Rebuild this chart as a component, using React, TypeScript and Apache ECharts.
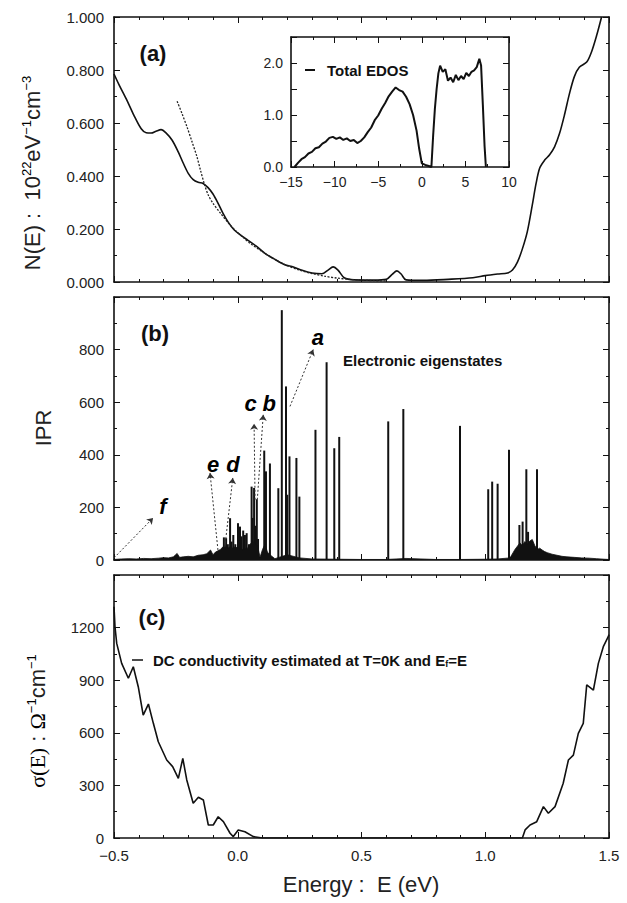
import { useEffect, useRef } from 'react';
import * as echarts from 'echarts';

const SANS = 'Liberation Sans, Arial, sans-serif';
const SERIF = 'Liberation Serif, Times New Roman, serif';
const INK = '#111';

// ---------- panel (a): N(E) ----------
const dosSolid: [number, number][] = [
  [-0.5, 0.785], [-0.48, 0.745], [-0.45, 0.69], [-0.42, 0.63], [-0.39, 0.578], [-0.37, 0.563],
  [-0.35, 0.562], [-0.33, 0.569], [-0.31, 0.575], [-0.29, 0.563], [-0.265, 0.535], [-0.24, 0.49],
  [-0.22, 0.448], [-0.2, 0.41], [-0.18, 0.386], [-0.16, 0.376], [-0.14, 0.372], [-0.12, 0.356],
  [-0.1, 0.332], [-0.08, 0.298], [-0.06, 0.26], [-0.04, 0.228], [-0.015, 0.197], [0.01, 0.178],
  [0.04, 0.158], [0.075, 0.135], [0.11, 0.108], [0.145, 0.088], [0.19, 0.065], [0.225, 0.057],
  [0.26, 0.044], [0.3, 0.034], [0.34, 0.031], [0.365, 0.045], [0.385, 0.057], [0.405, 0.045],
  [0.43, 0.016], [0.47, 0.008], [0.55, 0.007], [0.6, 0.01], [0.625, 0.03], [0.643, 0.042],
  [0.66, 0.03], [0.68, 0.008], [0.75, 0.006], [0.85, 0.01], [0.95, 0.016], [1.0, 0.024],
  [1.05, 0.03], [1.09, 0.034], [1.11, 0.045], [1.13, 0.075], [1.15, 0.125], [1.17, 0.19],
  [1.19, 0.29], [1.205, 0.37], [1.22, 0.43], [1.24, 0.46], [1.26, 0.48], [1.28, 0.51],
  [1.3, 0.56], [1.32, 0.63], [1.34, 0.71], [1.36, 0.775], [1.38, 0.81], [1.41, 0.83],
  [1.43, 0.87], [1.45, 0.93], [1.47, 1.0],
];
const dosFit: [number, number][] = [
  [-0.245, 0.682], [-0.225, 0.635], [-0.205, 0.585], [-0.185, 0.53], [-0.165, 0.473], [-0.15, 0.42],
  [-0.135, 0.37], [-0.12, 0.33], [-0.1, 0.297], [-0.07, 0.26], [-0.04, 0.225], [-0.01, 0.195],
  [0.02, 0.17], [0.05, 0.146], [0.1, 0.114], [0.15, 0.085], [0.2, 0.062], [0.25, 0.045],
  [0.3, 0.032], [0.35, 0.022], [0.4, 0.015], [0.45, 0.01], [0.5, 0.007], [0.55, 0.005], [0.6, 0.004],
];
// inset: total EDOS
const edosInset: [number, number][] = [
  [-14.6, 0.0], [-14.2, 0.08], [-13.8, 0.15], [-13.4, 0.19], [-13.0, 0.26], [-12.6, 0.29],
  [-12.2, 0.36], [-11.8, 0.38], [-11.4, 0.45], [-11.0, 0.49], [-10.6, 0.56], [-10.2, 0.58],
  [-9.8, 0.54], [-9.4, 0.57], [-9.0, 0.52], [-8.6, 0.55], [-8.2, 0.5], [-7.8, 0.52], [-7.4, 0.46],
  [-7.0, 0.5], [-6.6, 0.57], [-6.2, 0.67], [-5.8, 0.76], [-5.4, 0.9], [-5.0, 0.99], [-4.6, 1.12],
  [-4.2, 1.23], [-3.8, 1.36], [-3.4, 1.45], [-3.0, 1.53], [-2.6, 1.48], [-2.2, 1.45], [-1.8, 1.35],
  [-1.4, 1.21], [-1.0, 1.0], [-0.6, 0.7], [-0.3, 0.35], [0.0, 0.07], [0.4, 0.04], [0.8, 0.02],
  [1.1, 0.0], [1.3, 0.6], [1.5, 1.12], [1.7, 1.5], [1.9, 1.8], [2.1, 1.95], [2.4, 1.83],
  [2.7, 1.88], [3.0, 1.66], [3.3, 1.72], [3.6, 1.63], [3.9, 1.77], [4.2, 1.67], [4.5, 1.75],
  [4.8, 1.69], [5.1, 1.81], [5.4, 1.75], [5.7, 1.83], [6.0, 1.86], [6.3, 1.92], [6.6, 2.08],
  [6.8, 1.95], [7.0, 1.2], [7.2, 0.4], [7.35, 0.0],
];

// ---------- panel (b): IPR ----------
const iprSpikes: [number, number][] = [
  [-0.056, 86], [-0.047, 83], [-0.04, 60], [-0.031, 159], [-0.025, 70], [-0.018, 95], [-0.01, 60],
  [0.001, 140], [0.009, 127], [0.015, 90], [0.022, 112], [0.029, 95], [0.036, 102], [0.045, 60],
  [0.056, 279], [0.06, 160], [0.066, 274], [0.071, 130], [0.077, 231], [0.082, 80], [0.107, 416],
  [0.11, 150], [0.114, 337], [0.13, 367], [0.164, 273], [0.178, 950], [0.195, 660], [0.2, 248],
  [0.209, 394], [0.237, 388], [0.249, 241], [0.314, 495], [0.359, 752], [0.39, 425], [0.41, 468],
  [0.608, 527], [0.669, 574], [0.898, 510], [1.012, 269], [1.028, 298], [1.05, 290], [1.096, 419],
  [1.138, 133], [1.151, 146], [1.166, 345], [1.173, 107], [1.209, 345],
];
const iprDense: [number, number][] = [
  [-0.5, 2], [-0.47, 4], [-0.44, 5], [-0.41, 4], [-0.38, 6], [-0.35, 5], [-0.32, 7], [-0.3, 9],
  [-0.28, 8], [-0.26, 12], [-0.245, 25], [-0.235, 10], [-0.22, 12], [-0.2, 14], [-0.18, 12],
  [-0.16, 18], [-0.14, 20], [-0.125, 24], [-0.11, 38], [-0.1, 20], [-0.09, 30], [-0.08, 35],
  [-0.07, 40], [-0.06, 50], [-0.05, 55], [-0.04, 45], [-0.03, 50], [-0.02, 45], [-0.01, 50],
  [0.0, 45], [0.02, 40], [0.04, 45], [0.05, 60], [0.06, 70], [0.08, 55], [0.09, 10], [0.1, 40],
  [0.11, 60], [0.12, 30], [0.13, 20], [0.15, 5], [0.2, 20], [0.25, 8], [0.3, 4], [0.4, 3],
  [0.5, 2], [0.6, 2], [0.68, 6], [0.8, 2], [0.9, 2], [1.0, 3], [1.05, 4], [1.1, 8], [1.12, 40],
  [1.14, 65], [1.15, 55], [1.16, 70], [1.17, 60], [1.18, 72], [1.19, 78], [1.2, 55], [1.21, 40],
  [1.22, 45], [1.23, 38], [1.24, 32], [1.25, 28], [1.27, 22], [1.29, 18], [1.31, 14], [1.33, 12],
  [1.36, 10], [1.39, 8], [1.42, 7], [1.45, 5], [1.48, 3], [1.5, 2],
];
const stateLabels = [
  { name: 'a', value: [0.324, 846] },
  { name: 'b', value: [0.127, 594] },
  { name: 'c', value: [0.052, 594] },
  { name: 'd', value: [-0.019, 362] },
  { name: 'e', value: [-0.1, 362] },
  { name: 'f', value: [-0.302, 202] },
];
const stateArrows = [
  { coords: [[0.211, 584], [0.305, 800]] },
  { coords: [[0.079, 229], [0.103, 552]] },
  { coords: [[0.07, 229], [0.066, 518]] },
  { coords: [[-0.052, 50], [-0.02, 312]] },
  { coords: [[-0.08, 38], [-0.112, 331]] },
  { coords: [[-0.5, 8], [-0.342, 160]] },
];

// ---------- panel (c): sigma ----------
const sigma: [number, number][] = [
  [-0.5, 1319], [-0.496, 1205], [-0.489, 1110], [-0.469, 996], [-0.442, 911], [-0.422, 977],
  [-0.402, 863], [-0.382, 701], [-0.361, 764], [-0.341, 654], [-0.321, 549], [-0.287, 445],
  [-0.263, 407], [-0.24, 340], [-0.222, 454], [-0.206, 331], [-0.18, 198], [-0.159, 232],
  [-0.139, 217], [-0.119, 74], [-0.099, 74], [-0.079, 121], [-0.058, 93], [-0.031, 27],
  [-0.018, 8], [0.002, 46], [0.029, 36], [0.063, 8], [0.1, 0], [1.15, 0], [1.161, 46],
  [1.181, 74], [1.208, 93], [1.235, 179], [1.255, 141], [1.282, 179], [1.315, 312], [1.336, 445],
  [1.356, 473], [1.376, 597], [1.396, 654], [1.41, 873], [1.437, 844], [1.457, 996], [1.477, 1091],
  [1.497, 1148], [1.5, 1160],
];

const E_TICKS = { min: -0.5, max: 1.5, interval: 0.5 };

const tickLabel = { color: '#222', fontSize: 15, fontFamily: SANS };
const minus = (s: string) => s.replace('-', '\u2212');

function xAx(grid: number, pos: 'top' | 'bottom', showLabel: boolean) {
  return {
    type: 'value', gridIndex: grid, position: pos, ...E_TICKS,
    axisLine: { show: true, onZero: false, lineStyle: { color: INK, width: 1.6 } },
    axisTick: { show: true, inside: true, length: 6, lineStyle: { color: INK, width: 1 } },
    minorTick: { show: true, splitNumber: 5, length: 3, lineStyle: { color: INK, width: 1 } },
    splitLine: { show: false },
    axisLabel: { show: showLabel, ...tickLabel, margin: 10, formatter: (v: number) => minus(v.toFixed(1)) },
  };
}
function yAx(grid: number, pos: 'left' | 'right', min: number, max: number, interval: number, minor: number, fmt: ((v: number) => string) | null) {
  return {
    type: 'value', gridIndex: grid, position: pos, min, max, interval,
    axisLine: { show: true, onZero: false, lineStyle: { color: INK, width: 1.6 } },
    axisTick: { show: true, inside: true, length: 6, lineStyle: { color: INK, width: 1 } },
    minorTick: { show: true, splitNumber: minor, length: 3, lineStyle: { color: INK, width: 1 } },
    splitLine: { show: false },
    axisLabel: { show: !!fmt, ...tickLabel, margin: 10, formatter: fmt || undefined },
  };
}

export default function App() {
  const ref = useRef<HTMLDivElement>(null);
  useEffect(() => {
    if (!ref.current) return;
    const chart = echarts.init(ref.current, null, { renderer: 'svg' });
    const supRich = {
      t: { fontSize: 22, fontFamily: SANS, fill: '#222', color: '#222' },
      s: { fontSize: 13, fontFamily: SANS, color: '#222', padding: [0, 0, 12, 0] },
      g: { fontSize: 22, fontFamily: SERIF, color: '#222' },
    };
    const option: any = {
      animation: false,
      backgroundColor: '#fff',
      grid: [
        { left: 114, top: 17, width: 495, height: 265 },
        { left: 114, top: 297, width: 495, height: 263 },
        { left: 114, top: 575, width: 495, height: 263 },
        { left: 291, top: 37, width: 218, height: 130, show: true, backgroundColor: '#fff', borderWidth: 0, z: 5 },
      ],
      xAxis: [
        xAx(0, 'bottom', false), xAx(0, 'top', false),
        xAx(1, 'bottom', false), xAx(1, 'top', false),
        xAx(2, 'bottom', true), xAx(2, 'top', false),
        {
          ...xAx(3, 'bottom', true), min: -15, max: 10, interval: 5, z: 6,
          minorTick: { show: true, splitNumber: 2, length: 3, lineStyle: { color: INK } },
          axisLabel: { show: true, ...tickLabel, fontSize: 14, margin: 8, formatter: (v: number) => minus(String(v)) },
        },
        { ...xAx(3, 'top', false), min: -15, max: 10, interval: 5, z: 6, minorTick: { show: true, splitNumber: 2, length: 3, lineStyle: { color: INK } } },
      ],
      yAxis: [
        yAx(0, 'left', 0, 1, 0.2, 2, (v) => v.toFixed(3)), yAx(0, 'right', 0, 1, 0.2, 2, null),
        yAx(1, 'left', 0, 1000, 200, 2, (v) => (v >= 1000 ? '' : String(v))), yAx(1, 'right', 0, 1000, 200, 2, null),
        yAx(2, 'left', 0, 1500, 300, 2, (v) => (v >= 1500 ? '' : String(v))), yAx(2, 'right', 0, 1500, 300, 2, null),
        {
          ...yAx(3, 'left', 0, 2.5, 0.5, 1, (v) => (Math.abs(v - Math.round(v)) < 1e-9 && v < 2.5 ? v.toFixed(1) : '')), z: 6,
          minorTick: { show: false },
          axisLabel: { show: true, ...tickLabel, fontSize: 14, margin: 8, formatter: (v: number) => (Math.abs(v - Math.round(v)) < 1e-9 && v < 2.5 ? v.toFixed(1) : '') },
        },
        { ...yAx(3, 'right', 0, 2.5, 0.5, 1, null), z: 6, minorTick: { show: false } },
      ],
      series: [
        {
          type: 'line', name: 'N(E)', xAxisIndex: 0, yAxisIndex: 0, data: dosSolid, smooth: 0.3,
          showSymbol: false, lineStyle: { color: INK, width: 1.6 },
        },
        {
          type: 'line', name: 'fit', xAxisIndex: 0, yAxisIndex: 0, data: dosFit, smooth: 0.3,
          showSymbol: false, lineStyle: { color: '#222', width: 1.3, type: [2, 1.5] },
        },
        {
          type: 'line', name: 'Total EDOS', xAxisIndex: 6, yAxisIndex: 6, data: edosInset, z: 7,
          showSymbol: false, lineStyle: { color: INK, width: 2 },
        },
        {
          type: 'line', name: 'dense', xAxisIndex: 2, yAxisIndex: 2, data: iprDense,
          showSymbol: false, lineStyle: { color: INK, width: 0.8 }, areaStyle: { color: INK, opacity: 1 },
        },
        {
          type: 'bar', name: 'IPR', xAxisIndex: 2, yAxisIndex: 2, data: iprSpikes, barWidth: 2,
          itemStyle: { color: INK },
        },
        {
          type: 'lines', coordinateSystem: 'cartesian2d', xAxisIndex: 2, yAxisIndex: 2, data: stateArrows,
          symbol: ['none', 'arrow'], symbolSize: 6, z: 4,
          lineStyle: { color: '#333', width: 1, type: [2, 2], opacity: 1 },
        },
        {
          type: 'scatter', xAxisIndex: 2, yAxisIndex: 2, data: stateLabels, symbolSize: 1, z: 5,
          itemStyle: { color: '#fff', opacity: 0 },
          label: {
            show: true, position: 'inside', formatter: '{b}', fontSize: 22, fontWeight: 'bold',
            fontStyle: 'italic', fontFamily: SANS, color: '#000', opacity: 1,
          },
        },
        {
          type: 'line', name: 'sigma', xAxisIndex: 4, yAxisIndex: 4, data: sigma,
          showSymbol: false, lineStyle: { color: INK, width: 1.6 },
        },
      ],
      graphic: [
        { type: 'text', x: 153, y: 53, style: { text: '(a)', font: `bold 22px ${SANS}`, fill: INK, textAlign: 'center', textVerticalAlign: 'middle' } },
        { type: 'text', x: 155, y: 333, style: { text: '(b)', font: `bold 22px ${SANS}`, fill: INK, textAlign: 'center', textVerticalAlign: 'middle' } },
        { type: 'text', x: 152, y: 617, style: { text: '(c)', font: `bold 22px ${SANS}`, fill: INK, textAlign: 'center', textVerticalAlign: 'middle' } },
        { type: 'text', x: 343, y: 360, style: { text: 'Electronic eigenstates', font: `bold 15px ${SANS}`, fill: INK, textAlign: 'left', textVerticalAlign: 'middle' } },
        { type: 'line', z: 10, shape: { x1: 305, y1: 70, x2: 315, y2: 70 }, style: { stroke: INK, lineWidth: 2 } },
        { type: 'text', z: 10, x: 327, y: 70, style: { text: 'Total EDOS', font: `bold 15px ${SANS}`, fill: INK, textAlign: 'left', textVerticalAlign: 'middle' } },
        { type: 'line', shape: { x1: 132, y1: 660, x2: 143, y2: 660 }, style: { stroke: INK, lineWidth: 1.5 } },
        {
          type: 'text', x: 153, y: 660,
          style: {
            text: '{t|DC conductivity estimated at T=0K and E}{u|f}{t|=E}', textAlign: 'left', textVerticalAlign: 'middle',
            rich: {
              t: { fontSize: 15, fontWeight: 'bold', fontFamily: SANS, fill: INK },
              u: { fontSize: 9, fontWeight: 'bold', fontFamily: SANS, fill: INK, padding: [8, 0, 0, 0] },
            },
          },
        },
        {
          type: 'text', x: 32, y: 173, rotation: Math.PI / 2,
          style: {
            text: '{t|N(E) :  10}{s|22}{t|eV}{s|\u22121}{t|cm}{s|\u22123}', textAlign: 'center', textVerticalAlign: 'middle',
            rich: supRich,
          },
        },
        { type: 'text', x: 43, y: 428, rotation: Math.PI / 2, style: { text: 'IPR', font: `22px ${SANS}`, fill: '#222', textAlign: 'center', textVerticalAlign: 'middle' } },
        {
          type: 'text', x: 37, y: 721, rotation: Math.PI / 2,
          style: {
            text: '{g|\u03c3(E)}{t| : }{g|\u03a9}{s|\u22121}{t|cm}{s|\u22121}', textAlign: 'center', textVerticalAlign: 'middle',
            rich: supRich,
          },
        },
        { type: 'text', x: 361, y: 884, style: { text: 'Energy :  E (eV)', font: `22px ${SANS}`, fill: '#222', textAlign: 'center', textVerticalAlign: 'middle' } },
      ],
    };
    chart.setOption(option);
    return () => chart.dispose();
  }, []);
  return <div ref={ref} style={{ position: 'fixed', left: 0, top: 0, width: 627, height: 903, background: '#fff' }} />;
}
